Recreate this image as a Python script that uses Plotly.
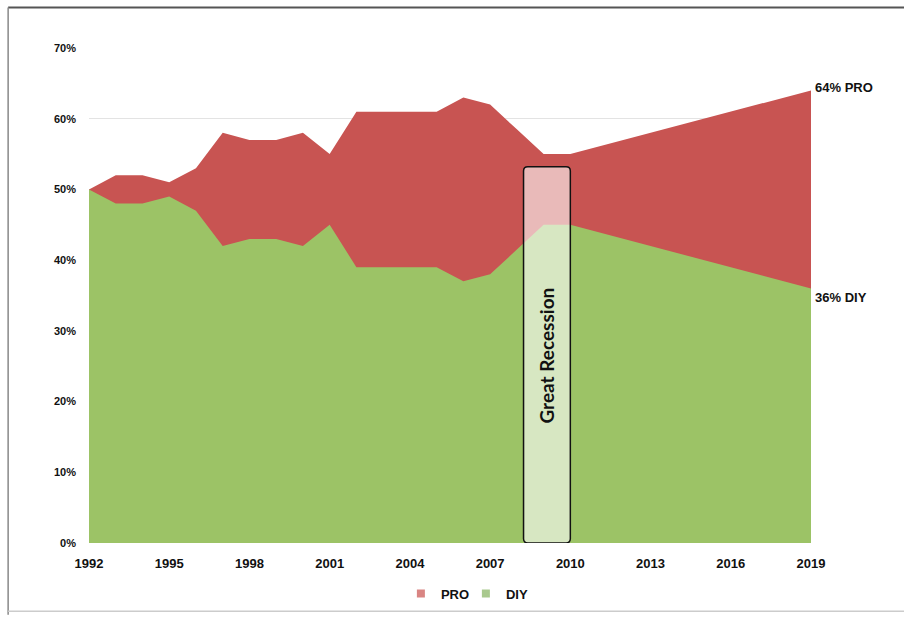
import plotly.graph_objects as go

# Share of spending: professional (PRO) vs do-it-yourself (DIY)
years = [1992, 1993, 1994, 1995, 1996, 1997, 1998, 1999, 2000, 2001,
         2002, 2003, 2004, 2005, 2006, 2007, 2008, 2009, 2010, 2019]
pro = [50, 52, 52, 51, 53, 58, 57, 57, 58, 55,
       61, 61, 61, 61, 63, 62, 58.5, 55, 55, 64]
diy = [50, 48, 48, 49, 47, 42, 43, 43, 42, 45,
       39, 39, 39, 39, 37, 38, 41.5, 45, 45, 36]

x_ticks = [1992, 1995, 1998, 2001, 2004, 2007, 2010, 2013, 2016, 2019]
y_ticks = [0, 10, 20, 30, 40, 50, 60, 70]

recession_start, recession_end, recession_top = 2008.25, 2010.0, 53.2

RED = "#C85452"
GREEN = "#9CC366"
FONT = "Liberation Sans"

fig = go.Figure()
fig.add_trace(go.Scatter(x=years, y=pro, name="PRO", mode="none",
                         fill="tozeroy", fillcolor=RED, showlegend=False))
fig.add_trace(go.Scatter(x=years, y=diy, name="DIY", mode="none",
                         fill="tozeroy", fillcolor=GREEN, showlegend=False))

# Square legend keys for the two areas
for name, col in [("PRO", "#D98583"), ("DIY", "#A9C98E")]:
    fig.add_trace(go.Scatter(x=[None], y=[None], mode="markers",
                             name=f"<b>{name}</b>",
                             marker=dict(symbol="square", size=8, color=col)))

# Rounded box marking the recession
rx, ry = 0.16, 0.6
x0, x1, y0, y1 = recession_start, recession_end, 0, recession_top
path = (f"M {x0+rx},{y0} L {x1-rx},{y0} Q {x1},{y0} {x1},{y0+ry} "
        f"L {x1},{y1-ry} Q {x1},{y1} {x1-rx},{y1} "
        f"L {x0+rx},{y1} Q {x0},{y1} {x0},{y1-ry} "
        f"L {x0},{y0+ry} Q {x0},{y0} {x0+rx},{y0} Z")
fig.add_shape(type="path", path=path, xref="x", yref="y",
              fillcolor="rgba(255,255,255,0.6)",
              line=dict(color="#111111", width=1.5), layer="above")

fig.add_annotation(x=(x0 + x1) / 2, y=26.5, xref="x", yref="y",
                   text="<b>Great Recession</b>", textangle=-90, showarrow=False,
                   font=dict(family="Lato", size=19, color="#111111"))

fig.add_annotation(x=2019, y=pro[-1], text=f"<b>{pro[-1]}% PRO</b>",
                   xanchor="left", xshift=2, yshift=3, showarrow=False,
                   font=dict(family=FONT, size=13, color="#111111"))
fig.add_annotation(x=2019, y=diy[-1], text=f"<b>{diy[-1]}% DIY</b>",
                   xanchor="left", xshift=2, yshift=-9, showarrow=False,
                   font=dict(family=FONT, size=13, color="#111111"))

# Frame around the chart
for (xa, ya, xb, yb, col, w) in [
        (-0.112, 1.082, 1.2, 1.082, "#555555", 2),
        (-0.112, 1.082, -0.112, -0.145, "#888888", 1.5),
        (-0.112, -0.138, 1.2, -0.138, "#CCCCCC", 1.5)]:
    fig.add_shape(type="line", xref="paper", yref="paper",
                  x0=xa, y0=ya, x1=xb, y1=yb, line=dict(color=col, width=w))

fig.update_layout(
    width=904, height=620,
    margin=dict(l=89, r=93, t=48, b=73),
    paper_bgcolor="white", plot_bgcolor="white",
    font=dict(family=FONT, color="#222222"),
    showlegend=True,
    legend=dict(orientation="h", x=0.522, xanchor="center", y=-0.102,
                yanchor="middle", font=dict(family=FONT, size=13, color="#111111"),
                itemwidth=30, entrywidth=20, entrywidthmode="pixels",
                tracegroupgap=0),
    xaxis=dict(range=[1992, 2019], tickvals=x_ticks,
               ticktext=[f"<b>{t}</b>" for t in x_ticks],
               showgrid=False, zeroline=False, showline=False,
               tickfont=dict(family=FONT, size=13, color="#111111"),
               ticklabelstandoff=11),
    yaxis=dict(range=[0, 70], tickvals=y_ticks,
               ticktext=[f"<b>{t}%</b>" for t in y_ticks],
               showgrid=True, gridcolor="#E3E3E3", gridwidth=1,
               zeroline=False, showline=False,
               tickfont=dict(family=FONT, size=11, color="#111111"),
               ticklabelstandoff=12),
)

fig.write_html("out.html")
